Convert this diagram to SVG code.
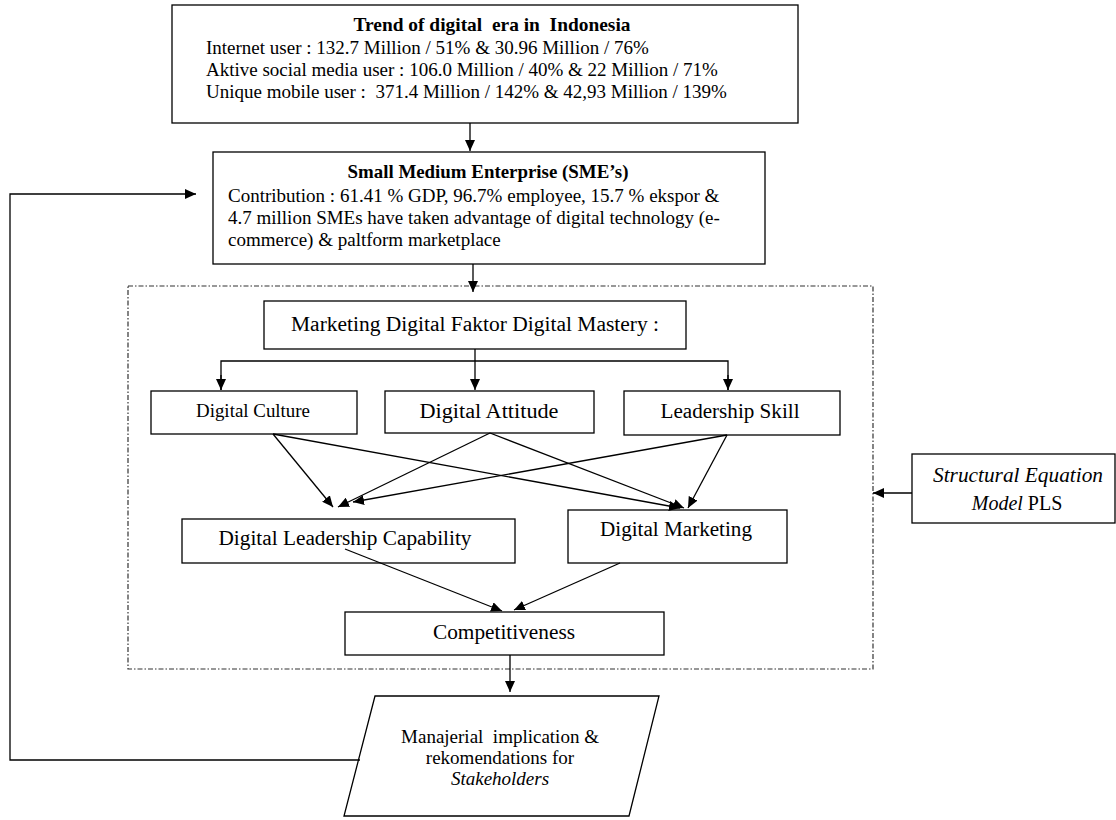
<svg xmlns="http://www.w3.org/2000/svg" width="1116" height="820" viewBox="0 0 1116 820">
<defs>
<style>
.box{fill:#fff;stroke:#000;stroke-width:1.3}
.dash{fill:none;stroke:#333;stroke-width:1.2;stroke-dasharray:5 2 1.5 2}
.t{font-family:"Liberation Serif","Times New Roman",serif;font-size:19px;fill:#000;white-space:pre}
.n{font-size:20px}
.b{font-weight:bold}
.c{text-anchor:middle}
.i{font-style:italic}
.ln{fill:none;stroke:#000;stroke-width:1.3}
</style>
<marker id="ah" viewBox="0 0 11 10" refX="11" refY="5" markerWidth="11" markerHeight="10" markerUnits="userSpaceOnUse" orient="auto">
<path d="M0,0 L11,5 L0,10 z" fill="#000"/>
</marker>
</defs>
<rect width="1116" height="820" fill="#fff"/>
<rect id="frame" class="dash" x="128" y="286" width="745" height="383"/>
<g id="trend">
<rect class="box" x="172" y="5" width="626" height="118"/>
<text class="t b c" x="492" y="31" textLength="277" lengthAdjust="spacingAndGlyphs">Trend of digital  era in  Indonesia</text>
<text class="t" x="206" y="54">Internet user : 132.7 Million / 51% &amp; 30.96 Million / 76%</text>
<text class="t" x="206" y="76">Aktive social media user : 106.0 Million / 40% &amp; 22 Million / 71%</text>
<text class="t" x="206" y="98">Unique mobile user :  371.4 Million / 142% &amp; 42,93 Million / 139%</text>
</g>
<g id="sme">
<rect class="box" x="213" y="152" width="552" height="112"/>
<text class="t b c" x="488" y="178" textLength="281" lengthAdjust="spacingAndGlyphs">Small Medium Enterprise (SME’s)</text>
<text class="t" x="228" y="202">Contribution : 61.41 % GDP, 96.7% employee, 15.7 % ekspor &amp;</text>
<text class="t" x="228" y="224">4.7 million SMEs have taken advantage of digital technology (e-</text>
<text class="t" x="228" y="246">commerce) &amp; paltform marketplace</text>
</g>
<g id="mastery">
<rect class="box" x="264" y="301" width="422" height="48"/>
<text class="t n c" x="475" y="331" textLength="368" lengthAdjust="spacingAndGlyphs">Marketing Digital Faktor Digital Mastery :</text>
</g>
<g id="culture">
<rect class="box" x="151" y="391" width="206" height="43"/>
<text class="t c" x="253" y="417" textLength="114" lengthAdjust="spacingAndGlyphs">Digital Culture</text>
</g>
<g id="attitude">
<rect class="box" x="385" y="391" width="209" height="42"/>
<text class="t n c" x="489" y="418" textLength="139" lengthAdjust="spacingAndGlyphs">Digital Attitude</text>
</g>
<g id="leadership">
<rect class="box" x="624" y="391" width="216" height="44"/>
<text class="t n c" x="730" y="418" textLength="139" lengthAdjust="spacingAndGlyphs">Leadership Skill</text>
</g>
<g id="dlc">
<rect class="box" x="182" y="519" width="333" height="44"/>
<text class="t n c" x="345" y="545" textLength="253" lengthAdjust="spacingAndGlyphs">Digital Leadership Capability</text>
</g>
<g id="dm">
<rect class="box" x="568" y="510" width="219" height="53"/>
<text class="t n c" x="676" y="536" textLength="152" lengthAdjust="spacingAndGlyphs">Digital Marketing</text>
</g>
<g id="comp">
<rect class="box" x="345" y="612" width="319" height="43"/>
<text class="t n c" x="504" y="639" textLength="142" lengthAdjust="spacingAndGlyphs">Competitiveness</text>
</g>
<g id="sem">
<rect class="box" x="912" y="454" width="203" height="69"/>
<text class="t n c i" x="1018" y="482" textLength="170" lengthAdjust="spacingAndGlyphs">Structural Equation</text>
<text class="t n c" x="1017" y="510"><tspan class="i">Model</tspan> PLS</text>
</g>
<g id="implication">
<polygon class="box" points="375,696 659,696 629,816 344,816"/>
<text class="t c" x="500" y="743">Manajerial  implication &amp;</text>
<text class="t c" x="500" y="764">rekomendations for</text>
<text class="t c i" x="500" y="785">Stakeholders</text>
</g>
<g id="connectors">
<line class="ln" x1="470" y1="123" x2="470" y2="151" marker-end="url(#ah)"/>
<line class="ln" x1="473" y1="264" x2="473" y2="292" marker-end="url(#ah)"/>
<line class="ln" x1="475" y1="349" x2="475" y2="390" marker-end="url(#ah)"/>
<polyline class="ln" points="221,390 221,361 728,361 728,390"/>
<line class="ln" x1="221" y1="375" x2="221" y2="390" marker-end="url(#ah)"/>
<line class="ln" x1="728" y1="375" x2="728" y2="390" marker-end="url(#ah)"/>
<line class="ln" x1="273" y1="434" x2="333" y2="507" marker-end="url(#ah)"/>
<line class="ln" x1="273" y1="434" x2="680" y2="508" marker-end="url(#ah)"/>
<line class="ln" x1="490" y1="433" x2="338" y2="507" marker-end="url(#ah)"/>
<line class="ln" x1="490" y1="433" x2="684" y2="508" marker-end="url(#ah)"/>
<line class="ln" x1="727" y1="435" x2="353" y2="502" marker-end="url(#ah)"/>
<line class="ln" x1="727" y1="435" x2="688" y2="508" marker-end="url(#ah)"/>
<line class="ln" x1="345" y1="549" x2="502" y2="611" marker-end="url(#ah)"/>
<line class="ln" x1="620" y1="563" x2="514" y2="610" marker-end="url(#ah)"/>
<line class="ln" x1="510" y1="655" x2="510" y2="692" marker-end="url(#ah)"/>
<line class="ln" x1="912" y1="493" x2="873" y2="493" marker-end="url(#ah)"/>
<polyline class="ln" points="360,760 10,760 10,194 196,194" marker-end="url(#ah)"/>
</g>
</svg>
